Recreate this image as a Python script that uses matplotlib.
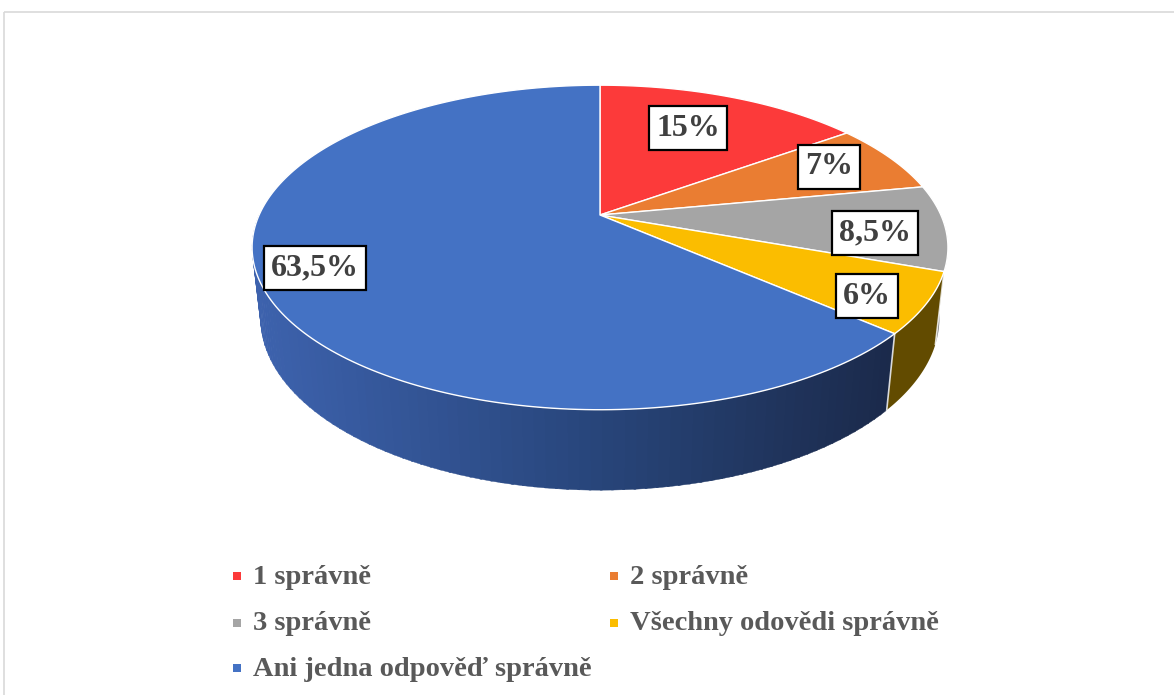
import numpy as np
import matplotlib
matplotlib.use("Agg")
import matplotlib.pyplot as plt
from matplotlib.patches import Polygon, Rectangle
from matplotlib.colors import to_rgb

# data
labels = ["1 správně", "2 správně", "3 správně",
          "Všechny odovědi správně", "Ani jedna odpověď správně"]
values = [15, 7, 8.5, 6, 63.5]
value_text = ["15%", "7%", "8,5%", "6%", "63,5%"]
top_colors = ["#fc3a3a", "#ea7d32", "#a5a5a5", "#fbbd00", "#4472c4"]
side_colors = ["#a82424", "#9c5220", "#6e6e6e", "#624b00", "#2b4a86"]

W, H = 1174, 695
fig = plt.figure(figsize=(W / 100, H / 100), dpi=100)
ax = fig.add_axes([0, 0, 1, 1])
ax.set_xlim(0, W)
ax.set_ylim(H, 0)
ax.axis("off")

# simple perspective camera for the tilted pie
elev = np.arcsin(0.457)
ce, se = np.cos(elev), np.sin(elev)
D = 5 * ce
f = 1516
cx, cy = 600, 215
depth = 0.234


def project(X, Y, Z=0.0):
    xc = X
    yc = Y * se + Z * ce
    zc = Y * ce - Z * se + D
    return cx + f * xc / zc, cy - f * yc / zc


def arc(t0, t1, Z=0.0, n=200):
    th = np.radians(np.linspace(t0, t1, n))
    return project(np.sin(th), np.cos(th), Z)


total = sum(values)
bounds = np.concatenate([[0], np.cumsum(values) / total * 360])

# frame
ax.add_patch(Rectangle((4, 12), W + 20, H + 20, fill=False,
                       edgecolor="#d9d9d9", lw=1.2))

# side walls (only the front part is visible)
blue_l, blue_m, blue_r = map(np.array, map(to_rgb, ["#3d62ad", "#29477e", "#1b2a4b"]))
for i in range(len(values)):
    t0, t1 = bounds[i], bounds[i + 1]
    lo, hi = max(t0, 90), min(t1, 270)
    if lo >= hi:
        continue
    if i == 4:
        # gradient strips for the big blue slice
        steps = np.linspace(lo, hi, 90)
        for a, b in zip(steps[:-1], steps[1:]):
            xt, yt = arc(a, b + 0.3, 0, 6)
            xb, yb = arc(a, b + 0.3, -depth, 6)
            frac = np.clip((xt.mean() - 255) / (890 - 255), 0, 1)
            if frac < 0.5:
                col = blue_l + (blue_m - blue_l) * frac * 2
            else:
                col = blue_m + (blue_r - blue_m) * (frac - 0.5) * 2
            ax.add_patch(Polygon(np.column_stack([np.r_[xt, xb[::-1]], np.r_[yt, yb[::-1]]]),
                                 closed=True, facecolor=col, edgecolor=col, lw=0.3))
    else:
        xt, yt = arc(lo, hi, 0)
        xb, yb = arc(lo, hi, -depth)
        ax.add_patch(Polygon(np.column_stack([np.r_[xt, xb[::-1]], np.r_[yt, yb[::-1]]]),
                             closed=True, facecolor=side_colors[i], edgecolor="none"))
    # white vertical seam at slice start
    if 90 < t0 < 270:
        xs, ys = project(np.sin(np.radians(t0)), np.cos(np.radians(t0)), np.array([0, -depth]))
        ax.plot(xs, ys, color="white", lw=1.2, alpha=0.8)

# top faces
for i in range(len(values)):
    xa, ya = arc(bounds[i], bounds[i + 1], 0)
    px, py = project(0, 0, 0)
    pts = np.column_stack([np.r_[px, xa], np.r_[py, ya]])
    ax.add_patch(Polygon(pts, closed=True, facecolor=top_colors[i],
                         edgecolor="white", lw=1.0, joinstyle="round"))

# value labels
label_pos = [(688, 128), (829, 167), (875, 233), (867, 296), (315, 268)]
for (x, y), txt in zip(label_pos, value_text):
    ax.text(x, y, txt, ha="center", va="center", fontsize=23,
            family="Liberation Serif", fontweight="bold", color="#404040",
            bbox=dict(boxstyle="square,pad=0.22", facecolor="white",
                      edgecolor="black", lw=1.6))

# legend
leg_pos = [(237, 576), (614, 576), (237, 623), (614, 623), (237, 668)]
for (x, y), lab, col in zip(leg_pos, labels, top_colors):
    ax.add_patch(Rectangle((x - 4, y - 4), 8, 8, facecolor=col, edgecolor="none"))
    ax.text(x + 16, y + 1, lab, ha="left", va="center", fontsize=20.5,
            family="Liberation Serif", fontweight="bold", color="#595959")

fig.savefig("out.png", dpi=100, facecolor="white")
